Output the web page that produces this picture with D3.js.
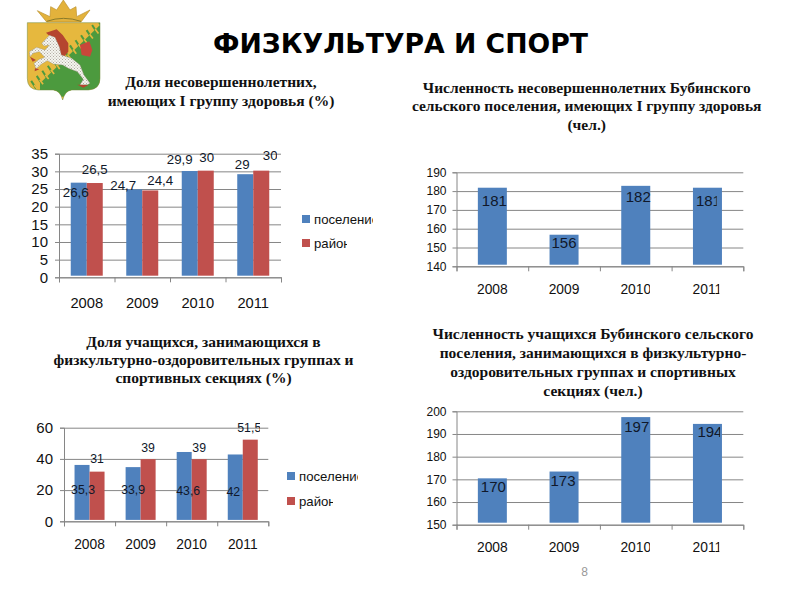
<!DOCTYPE html>
<html><head><meta charset="utf-8">
<script src="https://cdn.jsdelivr.net/npm/d3@7/dist/d3.min.js"></script>
<style>html,body{margin:0;padding:0;background:#fff;}svg{display:block;}</style>
</head><body><svg id="c" width="800" height="600"></svg>
<script>
const years = ["2008","2009","2010","2011"];
const seriesNames = ["поселение","район"];
const healthShareSettlement = [26.6,24.7,29.9,29];
const healthShareDistrict = [26.5,24.4,30,30];
const healthCount = [181,156,182,181];
const sportShareSettlement = [35.3,33.9,43.6,42];
const sportShareDistrict = [31,39,39,51.5];
const sportCount = [170,173,197,194];
const mainTitle = "ФИЗКУЛЬТУРА И СПОРТ";
const BLUE="#4F81BD", RED="#C0504D", GRID="#868686";
const SANS="'Liberation Sans',Arial,sans-serif", SERIF="'Liberation Serif','Times New Roman',serif";
const svg=d3.select("#c"), defs=svg.append("defs");
svg.append("rect").attr("width",800).attr("height",600).attr("fill","#fff");
let clipN=0;
function clipRight(sel,x){
  const id="clip"+(clipN++);
  defs.append("clipPath").attr("id",id).attr("clipPathUnits","userSpaceOnUse")
    .append("rect").attr("x",0).attr("y",0).attr("width",x).attr("height",600);
  sel.attr("clip-path",`url(#${id})`);
}
function drawChart(o){
  const g=svg.append("g");
  const x=d3.scaleBand().domain(years).range([o.left,o.right]);
  const y=d3.scaleLinear().domain(o.domain).range([o.bottom,o.top]);
  const grid=d3.axisLeft(y).tickValues(o.ticks).tickSize(-(o.right-o.left)).tickFormat("");
  const gg=g.append("g").attr("transform",`translate(${o.left},0)`).call(grid);
  gg.select(".domain").remove();
  gg.selectAll("line").attr("stroke",GRID).attr("stroke-width",1);
  const n=o.series.length, bw=o.barW;
  o.series.forEach((vals,s)=>{
    g.append("g").selectAll("rect").data(vals).join("rect")
     .attr("x",(d,i)=>x(years[i])+x.bandwidth()/2-n*bw/2+s*bw)
     .attr("width",bw)
     .attr("y",d=>y(d)-o.shift)
     .attr("height",d=>Math.max(0,o.bottom-o.gap-y(d)+o.shift))
     .attr("fill",s===0?BLUE:RED);
  });
  const ya=g.append("g").attr("transform",`translate(${o.left},0)`)
    .call(d3.axisLeft(y).tickValues(o.ticks).tickSize(4).tickPadding(o.yPad).tickFormat(d3.format("d")));
  ya.selectAll("line").attr("stroke",GRID);
  ya.select(".domain").attr("stroke",GRID);
  ya.selectAll("text").attr("font-family",SANS).attr("font-size",o.yFont).attr("fill","#111");
  const xa=g.append("g").attr("transform",`translate(0,${o.bottom})`)
    .call(d3.axisBottom(d3.scalePoint().domain(d3.range(years.length+1)).range([o.left,o.right])).tickSize(5).tickFormat(""));
  xa.selectAll("line").attr("stroke",GRID);
  xa.select(".domain").attr("stroke",GRID);
  g.append("g").selectAll("text").data(years).join("text")
   .attr("x",d=>x(d)+x.bandwidth()/2).attr("y",o.catY).attr("text-anchor","middle")
   .attr("font-family",SANS).attr("font-size",o.catFont).attr("fill","#111").text(d=>d)
   .each(function(d,i){ if(o.catClip&&o.catClip[i]) clipRight(d3.select(this),o.catClip[i]); });
  o.series.forEach((vals,s)=>{
    const nud=o.nudge[s];
    g.append("g").selectAll("text").data(vals).join("text")
     .attr("x",(d,i)=>x(years[i])+x.bandwidth()/2-n*bw/2+s*bw+bw/2+nud[i][0])
     .attr("y",(d,i)=>y(d)+nud[i][1])
     .attr("text-anchor","middle").attr("font-family",SANS).attr("font-size",o.valFont).attr("fill","#10182a")
     .text(d=>String(d).replace(".",","))
     .each(function(d,i){ const c=o.valClip&&o.valClip[s]&&o.valClip[s][i]; if(c) clipRight(d3.select(this),c); });
  });
  if(o.legend){
    const l=o.legend;
    seriesNames.forEach((name,i)=>{
      g.append("rect").attr("x",l.x).attr("y",l.ys[i]).attr("width",8).attr("height",8).attr("fill",i===0?BLUE:RED);
      const t=g.append("text").attr("x",l.x+12).attr("y",l.ys[i]+8.5).attr("font-family",SANS)
       .attr("font-size",13.2).attr("fill","#111").text(name);
      clipRight(t,l.clips[i]);
    });
  }
  g.append("g").selectAll("text").data(o.title).join("text")
   .attr("x",o.titleX).attr("y",(d,i)=>o.titleY[i]).attr("text-anchor","middle")
   .attr("font-family",SERIF).attr("font-weight","bold").attr("font-size",o.titleFont).attr("fill","#111").text(d=>d);
}
drawChart({left:59,right:281,top:153.7,bottom:277.3,domain:[0,35],ticks:d3.range(0,36,5),barW:16,shift:.7,gap:1.6,
  series:[healthShareSettlement,healthShareDistrict],yFont:15,yPad:7,catFont:14.7,catY:308,valFont:13.3,
  nudge:[[[-3,14],[-11,0],[-10,-7.5],[-3,-6]],[[0,-9.5],[10,-6],[1,-9],[9,-11]]],
  valClip:[null,[0,0,0,277]],
  legend:{x:302,ys:[215,239],clips:[373,347]},
  title:["Доля несовершеннолетних,","имеющих I группу здоровья (%)"],titleX:221,titleY:[86.7,105.5],titleFont:15.5});
drawChart({left:456.5,right:743.3,top:172.3,bottom:266.3,domain:[140,190],ticks:d3.range(140,191,10),barW:29,shift:1.5,gap:1.6,
  series:[healthCount],yFont:12,yPad:6,catFont:13.8,catY:294,catClip:[0,0,650,719.3],valFont:15,
  nudge:[[[2,17],[0,12],[2.5,15],[1,17]]],valClip:[[0,0,0,716.7]],
  title:["Численность несовершеннолетних Бубинского","сельского поселения, имеющих I группу здоровья","(чел.)"],titleX:586.7,titleY:[92.7,111,130],titleFont:15.5});
drawChart({left:64,right:268.3,top:427.7,bottom:521.3,domain:[0,60],ticks:[0,20,40,60],barW:15,shift:1.3,gap:1.4,
  series:[sportShareSettlement,sportShareDistrict],yFont:15,yPad:7,catFont:13.8,catY:549,valFont:12.3,
  nudge:[[[1,28],[0,26],[4,42],[-2,40]],[[0,-10],[0,-8],[0,-8],[-1,-9]]],
  valClip:[null,[0,0,0,260]],
  legend:{x:287,ys:[472,497],clips:[358,333]},
  title:["Доля учащихся, занимающихся в","физкультурно-оздоровительных группах и","спортивных секциях (%)"],titleX:203.5,titleY:[346.7,365,382.7],titleFont:15.5});
drawChart({left:456.5,right:743.3,top:411.3,bottom:524.7,domain:[150,200],ticks:d3.range(150,201,10),barW:29,shift:1,gap:2,
  series:[sportCount],yFont:12,yPad:6,catFont:13.8,catY:552,catClip:[0,0,650,719.3],valFont:15,
  nudge:[[[1,13],[-1,13],[1,13.5],[2.5,12]]],valClip:[[0,0,0,720]],
  title:["Численность учащихся Бубинского сельского","поселения, занимающихся в физкультурно-","оздоровительных группах и спортивных","секциях (чел.)"],titleX:593,titleY:[339,358,377,396],titleFont:15.5});
svg.append("text").attr("x",400.5).attr("y",53).attr("text-anchor","middle").attr("font-family","'DejaVu Sans',sans-serif")
  .attr("font-weight","bold").attr("font-size",26.7).attr("fill","#000").text(mainTitle);
svg.append("text").attr("x",584.5).attr("y",576).attr("text-anchor","middle").attr("font-family",SANS)
  .attr("font-size",12).attr("fill","#999").text("8");
// coat of arms (drawn at 3x, scaled down)
const e=svg.append("g").attr("transform","scale(0.3333)");
const shield="M82,68 H300 V235 Q300,268 265,270 H215 Q195,272 188,300 Q181,272 160,270 H115 Q82,268 82,235 Z";
defs.append("clipPath").attr("id","shieldClip").append("path").attr("d",shield);
const dots=defs.append("pattern").attr("id","spots").attr("patternUnits","userSpaceOnUse").attr("width",9).attr("height",9);
dots.append("circle").attr("cx",3).attr("cy",3).attr("r",1.5).attr("fill","#9a9488");
dots.append("circle").attr("cx",7.5).attr("cy",7.5).attr("r",1.5).attr("fill","#9a9488");
e.append("path").attr("d",shield).attr("fill","#E6B83E");
const inner=e.append("g").attr("clip-path","url(#shieldClip)");
inner.append("path").attr("d","M300,75 L300,290 L120,290 L120,250 Z").attr("fill","#4C9A3E");
d3.range(0,14).forEach(i=>{
  const t=i/13, cx=84+t*216, cy=268-t*198;
  inner.append("path").attr("d",`M${cx-7},${cy-10} L${cx+8},${cy+13}`).attr("stroke","#4C9A3E").attr("stroke-width",6);
  inner.append("path").attr("d",`M${cx+2},${cy+2} L${cx+12},${cy+15}`).attr("stroke","#E6B83E").attr("stroke-width",5);
});
e.append("path").attr("d",shield).attr("fill","none").attr("stroke","#6d8a3a").attr("stroke-width",1.5);
e.append("path").attr("d","M112,32 L150,50 L152,20 L170,30 L190,0 L210,30 L228,20 L230,50 L270,30 L243,66 L140,66 Z").attr("fill","#E3B23C").attr("stroke","#B98F2A").attr("stroke-width",2);
e.append("path").attr("d","M140,64 Q190,46 243,64").attr("fill","none").attr("stroke","#8a7a2a").attr("stroke-width",3);
e.append("path").attr("d","M240,135 L268,124 L277,150 L270,170 L245,165 Z").attr("fill","#C9473A");
e.append("path").attr("d","M138,98 L170,88 L188,105 L205,130 L205,155 L185,178 L172,130 Z").attr("fill","#B5452F");
const horse="M125,130 L148,106 L165,112 L178,140 L184,165 L215,175 L240,195 L252,225 L270,250 L262,254 L240,255 L250,238 L232,215 L205,205 L188,195 L160,192 L142,182 L125,192 L108,207 L102,190 L118,178 L134,172 L118,155 L100,160 L90,170 L88,155 L110,142 L135,150 L148,135 L132,138 Z";
e.append("path").attr("d",horse).attr("fill","#F5F5EF").attr("stroke","#8a7f6a").attr("stroke-width",1);
e.append("path").attr("d",horse).attr("fill","url(#spots)");
e.append("path").attr("d","M90,170 L108,180 L98,185 Z M105,205 L118,208 L104,214 Z M232,254 L265,255 L250,263 Z").attr("fill","#B5452F");
</script></body></html>
